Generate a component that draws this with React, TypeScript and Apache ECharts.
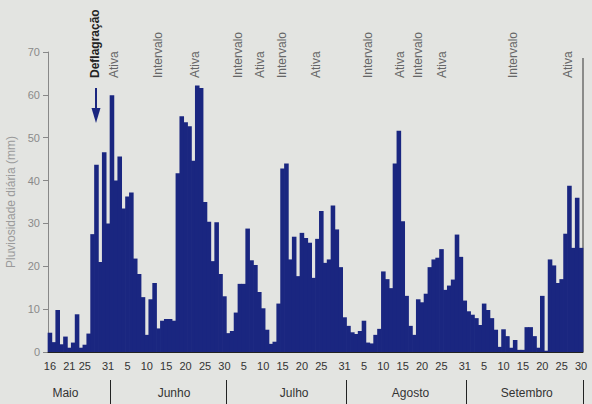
import { useEffect, useRef } from 'react';
import * as echarts from 'echarts';

// ---- data ----
const months = ['Maio', 'Junho', 'Julho', 'Agosto', 'Setembro'];
const monthFirstDay = [16, 1, 1, 1, 1];
const monthLastDay = [31, 30, 31, 31, 30];

const mayRain = [4.5, 2.3, 9.8, 1.8, 3.6, 1.0, 2.2, 8.8, 1.0, 1.7, 4.3, 27.5, 43.7, 21.0, 46.6, 30.0];
const junRain = [59.9, 40.0, 45.6, 33.5, 36.3, 37.2, 21.8, 18.2, 12.8, 4.0, 12.3, 16.1, 5.5, 7.3, 7.7, 7.7, 7.3, 41.7, 55.0, 53.6, 52.7, 44.6, 62.2, 61.6, 35.0, 30.4, 21.2, 30.3, 18.2, 13.0];
const julRain = [4.4, 4.9, 9.2, 15.9, 15.9, 28.8, 21.4, 20.3, 14.0, 10.2, 5.2, 1.9, 2.4, 11.3, 42.8, 44.0, 21.6, 26.9, 17.7, 27.8, 26.6, 25.5, 17.3, 26.4, 32.9, 20.8, 21.6, 34.2, 28.6, 19.8, 8.1];
const augRain = [6.1, 4.6, 4.2, 4.9, 7.3, 2.2, 2.0, 4.0, 5.4, 18.8, 17.0, 14.9, 44.0, 51.6, 30.5, 13.1, 6.1, 4.0, 12.3, 11.6, 13.6, 19.8, 21.6, 22.0, 24.0, 14.5, 15.5, 16.9, 27.4, 22.2, 12.0];
const sepRain = [9.5, 8.7, 7.9, 6.3, 11.3, 9.8, 7.9, 5.2, 1.2, 5.3, 3.7, 1.0, 2.8, 0.5, 0.5, 5.8, 5.8, 3.7, 1.0, 13.1, 0.3, 21.6, 20.2, 16.1, 17.0, 27.6, 38.8, 24.3, 36.0, 24.3];

const monthRain = [mayRain, junRain, julRain, augRain, sepRain];

const tickDays = [
  [16, 21, 25, 31],
  [5, 10, 15, 20, 25, 30],
  [5, 10, 15, 20, 25, 31],
  [5, 10, 15, 20, 25, 31],
  [5, 10, 15, 20, 25, 30],
];

// day (of month) at which each month name is written
const monthLabelDay = [20, 17, 18, 17, 16];

const yTicks = [0, 10, 20, 30, 40, 50, 60, 70];

const phaseLabels = ['Deflagração', 'Ativa', 'Intervalo', 'Ativa', 'Intervalo', 'Ativa', 'Intervalo', 'Ativa', 'Intervalo', 'Ativa', 'Intervalo', 'Ativa', 'Intervalo', 'Ativa'];

// ---- derived ----
const days: string[] = [];
const monthOfDay: string[] = [];
const rain: number[] = [];
const tickIdx = new Set<number>();
const boundaryIdx = new Set<number>();
const monthLabelIdx = new Set<number>();
months.forEach((m, mi) => {
  if (mi > 0) boundaryIdx.add(days.length);
  for (let d = monthFirstDay[mi]; d <= monthLastDay[mi]; d++) {
    if (tickDays[mi].includes(d)) tickIdx.add(days.length);
    if (monthLabelDay[mi] === d) monthLabelIdx.add(days.length);
    days.push(String(d));
    monthOfDay.push(m);
    rain.push(monthRain[mi][d - monthFirstDay[mi]]);
  }
});

// ---- layout / style ----
const FONT = 'Liberation Sans, Arial, Helvetica, sans-serif';
const NAVY = '#1a2680';
const phaseX = [95, 114, 158, 195, 238, 260, 282, 316, 368, 400, 418, 442, 513, 568];

export default function App() {
  const ref = useRef<HTMLDivElement>(null);
  useEffect(() => {
    if (!ref.current) return;
    const chart = echarts.init(ref.current, undefined, { renderer: 'svg' });
    const graphics: any[] = phaseLabels.map((t, i) => ({
      type: 'text',
      x: phaseX[i],
      y: 78,
      rotation: Math.PI / 2,
      style: {
        text: t,
        fill: i === 0 ? '#222' : '#666',
        fontSize: 12,
        fontWeight: i === 0 ? 'bold' : 'normal',
        fontFamily: FONT,
        align: 'left',
        verticalAlign: 'middle',
      },
    }));
    graphics.push(
      { type: 'line', shape: { x1: 96, y1: 88, x2: 96, y2: 112 }, style: { stroke: NAVY, lineWidth: 2 } },
      { type: 'polygon', shape: { points: [[91.5, 108], [100.5, 108], [96, 123]] }, style: { fill: NAVY } },
      { type: 'line', shape: { x1: 583, y1: 58, x2: 583, y2: 352 }, style: { stroke: '#333', lineWidth: 1 } }
    );
    chart.setOption({
      animation: false,
      backgroundColor: '#e3e4e1',
      textStyle: { fontFamily: FONT },
      grid: { left: 48, right: 9, top: 52, bottom: 52, containLabel: false, outerBoundsMode: 'none' },
      xAxis: [
        {
          type: 'category',
          data: days,
          axisLine: { lineStyle: { color: '#222', width: 1 } },
          axisTick: { show: false },
          axisLabel: {
            interval: (idx: number) => tickIdx.has(idx),
            color: '#333',
            fontSize: 11,
            margin: 8,
            fontFamily: FONT,
          },
          splitLine: { show: false },
          z: 5,
        },
        {
          type: 'category',
          data: monthOfDay,
          position: 'bottom',
          offset: 28,
          axisLine: { show: false },
          axisTick: {
            show: true,
            interval: (idx: number) => boundaryIdx.has(idx),
            length: 24,
            lineStyle: { color: '#222', width: 1 },
          },
          axisLabel: {
            interval: (idx: number) => monthLabelIdx.has(idx),
            color: '#333',
            fontSize: 12,
            margin: 7,
            fontFamily: FONT,
          },
          splitLine: { show: false },
        },
      ],
      yAxis: {
        type: 'value',
        min: yTicks[0],
        max: yTicks[yTicks.length - 1],
        interval: 10,
        name: 'Pluviosidade diária (mm)',
        nameLocation: 'middle',
        nameGap: 28,
        nameRotate: 90,
        nameTextStyle: { color: '#9a9a9a', fontSize: 12, fontFamily: FONT },
        axisLine: { show: true, lineStyle: { color: '#888' } },
        axisTick: { show: true, length: 5, lineStyle: { color: '#888' } },
        axisLabel: { color: '#8a8a8a', fontSize: 11, margin: 8, fontFamily: FONT },
        splitLine: { show: false },
      },
      series: [
        {
          type: 'custom',
          xAxisIndex: 0,
          yAxisIndex: 0,
          data: rain.map((v, i) => [i, v]),
          encode: { x: 0, y: 1 },
          renderItem: (_params: any, api: any) => {
            const idx = api.value(0);
            const v = api.value(1);
            const top = api.coord([idx, v]);
            const base = api.coord([idx, 0]);
            const w = api.size([1, 0])[0];
            return {
              type: 'rect',
              shape: { x: top[0] - w / 2 - 0.35, y: top[1], width: w + 0.7, height: base[1] - top[1] },
              style: { fill: NAVY },
            };
          },
        },
      ],
      graphic: graphics,
    });
    return () => chart.dispose();
  }, []);
  return <div ref={ref} style={{ position: 'fixed', left: 0, top: 0, width: 592, height: 404 }} />;
}
